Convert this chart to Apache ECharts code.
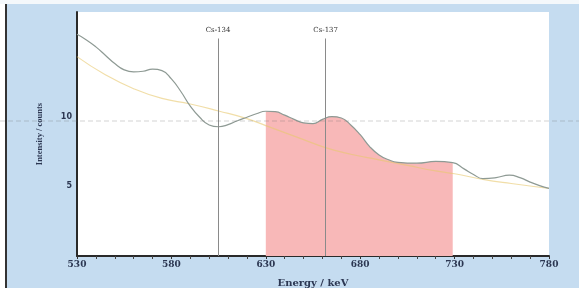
<!DOCTYPE html>
<html>
<head>
<meta charset="utf-8">
<script src="https://cdn.jsdelivr.net/npm/echarts@6/dist/echarts.min.js"></script>
<style>
  html, body { margin: 0; padding: 0; background: #fff; }
  #chart { width: 579px; height: 299px; }
</style>
</head>
<body>
<div id="chart"></div>
<script>
// spectrum (energy in keV, counts)
var energies = [530, 535, 540, 545, 550, 555, 560, 565, 570, 575, 580, 585, 590, 595, 600, 605, 610, 615, 620, 625,
  630, 635, 640, 645, 650, 655, 660, 665, 670, 675, 680, 685, 690, 695, 700, 710, 720, 729,
  735, 740, 745, 752, 759, 765, 770, 775, 780]
var counts = [15.9, 15.5, 15.0, 14.4, 13.8, 13.35, 13.2, 13.25, 13.4, 13.3, 12.7, 11.8, 10.75, 9.95, 9.4, 9.27, 9.42, 9.7, 9.95, 10.2,
  10.38, 10.35, 10.1, 9.8, 9.55, 9.5, 9.8, 10.0, 9.9, 9.4, 8.7, 7.85, 7.25, 6.9, 6.72, 6.66, 6.78, 6.7,
  6.25, 5.85, 5.55, 5.62, 5.8, 5.6, 5.3, 5.05, 4.85]

// background fit
var baseEnergies = [530, 545, 560, 575, 590, 605, 620, 630, 640, 650, 662, 675, 690, 705, 720, 730, 745, 760, 780]
var baseCounts = [14.3, 13.0, 12.0, 11.3, 10.9, 10.4, 9.85, 9.35, 8.85, 8.35, 7.75, 7.3, 6.9, 6.5, 6.1, 5.9, 5.5, 5.2, 4.85]

// peak markers
var peakNames = ['Cs-134', 'Cs-137']
var peakEnergies = [604.7, 661.7]
var peakTop = 15.6

// region of interest
var roi = [630, 729]

var xTicks = [530, 580, 630, 680, 730, 780]
var yTicks = [5, 10]

var curve = energies.map(function (e, i) { return [e, counts[i]] })
var roiData = curve.filter(function (p) { return p[0] >= roi[0] && p[0] <= roi[1] })
var base = baseEnergies.map(function (e, i) { return [e, baseCounts[i]] })

var navy = '#2c3752'
var chart = echarts.init(document.getElementById('chart'), null, {renderer: 'canvas'})
chart.setOption({
  backgroundColor: '#c5dcf0',
  animation: false,
  grid: {
    left: 77, right: 30, top: 12, bottom: 43,
    show: true, backgroundColor: '#ffffff', borderWidth: 0
  },
  xAxis: {
    type: 'value',
    min: 530, max: 780, interval: 50,
    name: 'Energy / keV',
    nameLocation: 'middle',
    nameGap: 22,
    nameTextStyle: {color: navy, fontFamily: 'DejaVu Serif', fontWeight: 'bold', fontSize: 10},
    axisLine: {show: true, lineStyle: {color: '#2a2a2a', width: 2}},
    axisTick: {show: true, length: 3, lineStyle: {color: '#333'}},
    minorTick: {show: true, splitNumber: 5, length: 3, lineStyle: {color: '#444'}},
    splitLine: {show: false},
    axisLabel: {
      color: navy, fontFamily: 'DejaVu Serif', fontWeight: 'bold', fontSize: 9, margin: 4,
      formatter: function (v) { return xTicks.indexOf(v) >= 0 ? String(v) : '' }
    }
  },
  yAxis: {
    type: 'value',
    min: 0, max: 17.5, interval: 5,
    name: 'Intensity / counts',
    nameLocation: 'middle',
    nameGap: 33,
    nameTextStyle: {color: navy, fontFamily: 'Liberation Sans Narrow', fontWeight: 'bold', fontSize: 8.5},
    axisLine: {show: true, lineStyle: {color: '#2a2a2a', width: 2}},
    axisTick: {show: false},
    splitLine: {show: false},
    axisLabel: {
      color: navy, fontFamily: 'DejaVu Sans', fontWeight: 'bold', fontSize: 8, margin: 5,
      formatter: function (v) { return yTicks.indexOf(v) >= 0 ? String(v) : '' }
    }
  },
  graphic: [
    {type: 'rect', shape: {x: 0, y: 0, width: 6, height: 299}, style: {fill: '#ffffff'}, silent: true},
    {type: 'rect', shape: {x: 0, y: 0, width: 579, height: 4}, style: {fill: '#f4f8fb'}, silent: true},
    {type: 'rect', shape: {x: 0, y: 288, width: 579, height: 11}, style: {fill: '#ffffff'}, silent: true},
    {type: 'line', shape: {x1: 6, y1: 4, x2: 6, y2: 288}, style: {stroke: '#333', lineWidth: 2}, silent: true},
    {type: 'line', z: 100, shape: {x1: 0, y1: 121, x2: 579, y2: 121},
      style: {stroke: 'rgba(110,110,110,0.3)', lineWidth: 1, lineDash: [5, 3]}, silent: true}
  ],
  series: [
    {
      name: 'roi',
      type: 'line',
      data: roiData,
      smooth: true,
      symbol: 'none',
      lineStyle: {width: 0},
      areaStyle: {color: '#f8b8b8', opacity: 1},
      z: 1
    },
    {
      name: 'background',
      type: 'line',
      data: base,
      smooth: true,
      symbol: 'none',
      lineStyle: {color: 'rgba(232,200,110,0.6)', width: 1.2},
      z: 2
    },
    {
      name: 'spectrum',
      type: 'line',
      data: curve,
      smooth: true,
      symbol: 'none',
      lineStyle: {color: '#8e9a94', width: 1.2},
      z: 3,
      markLine: {
        silent: true,
        symbol: 'none',
        lineStyle: {color: '#8a8a8a', width: 1, type: 'solid'},
        label: {
          show: true, position: 'end', distance: 5,
          color: '#333', fontFamily: 'DejaVu Serif', fontSize: 7,
          formatter: function (p) { return p.name }
        },
        data: peakNames.map(function (n, i) {
          return [
            {name: n, coord: [peakEnergies[i], 0]},
            {coord: [peakEnergies[i], peakTop]}
          ]
        })
      }
    }
  ]
})
</script>
</body>
</html>
